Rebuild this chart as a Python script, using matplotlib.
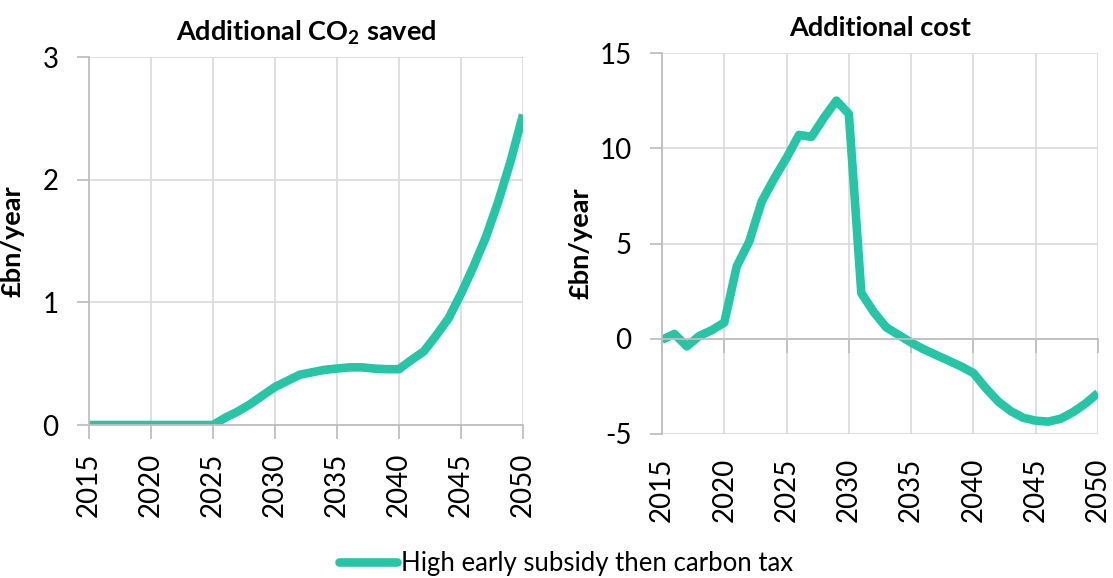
import matplotlib
matplotlib.use("Agg")
import matplotlib.pyplot as plt

plt.rcParams['font.family'] = ['Lato', 'DejaVu Sans']
plt.rcParams['mathtext.fontset'] = 'custom'
plt.rcParams['mathtext.rm'] = 'Lato'
plt.rcParams['mathtext.bf'] = 'Lato:bold'
plt.rcParams['axes.unicode_minus'] = False

years = list(range(2015, 2051))
co2_saved = [0, 0, 0, 0, 0, 0, 0, 0, 0, 0, 0,
             0.06, 0.11, 0.17, 0.24, 0.31, 0.36, 0.41, 0.43, 0.45, 0.46,
             0.47, 0.47, 0.46, 0.455, 0.455, 0.53, 0.60, 0.73, 0.87, 1.07,
             1.29, 1.53, 1.82, 2.15, 2.53]
add_cost = [-0.05, 0.25, -0.4, 0.15, 0.45, 0.85, 3.8, 5.1, 7.2, 8.4, 9.5,
            10.7, 10.6, 11.6, 12.5, 11.8, 2.4, 1.4, 0.6, 0.2, -0.2,
            -0.55, -0.85, -1.15, -1.45, -1.8, -2.6, -3.3, -3.8, -4.15, -4.3,
            -4.35, -4.2, -3.85, -3.4, -2.85]
xticks = [2015, 2020, 2025, 2030, 2035, 2040, 2045, 2050]
series_name = "High early subsidy then carbon tax"
titles = [r"Additional CO$_\mathbf{2}$ saved", "Additional cost"]
ylabel = "£bn/year"

color = "#26C5A6"
spine_c = "#BFBFBF"
grid_c = "#D9D9D9"
fs = 20
fs_title = 19.5
fs_leg = 18.5

W, H = 1113, 578
fig = plt.figure(figsize=(W / 100, H / 100), dpi=100)

def rect(x0, x1, y0, y1):
    return [x0 / W, 1 - y1 / H, (x1 - x0) / W, (y1 - y0) / H]

ax1 = fig.add_axes(rect(89, 523, 57, 425))
ax2 = fig.add_axes(rect(662, 1098, 53, 434))

for ax in (ax1, ax2):
    ax.set_xlim(2015, 2050)
    ax.grid(True, color=grid_c, linewidth=1.2)
    ax.set_axisbelow(True)
    for s in ('top', 'right'):
        ax.spines[s].set_visible(False)
    for s in ('left', 'bottom'):
        ax.spines[s].set_color(spine_c)
        ax.spines[s].set_linewidth(1.3)
    ax.tick_params(axis='y', length=9, width=1.3, color=spine_c, pad=13, labelsize=fs)
    ax.set_xticks(xticks)
    ax.set_ylabel(ylabel, fontsize=fs_title, fontweight='bold')

# Left chart
ln, = ax1.plot(years, co2_saved, color=color, linewidth=6.2, solid_capstyle='butt',
               solid_joinstyle='round', label=series_name)
ax1.set_ylim(0, 3)
ax1.set_yticks([0, 1, 2, 3])
ax1.tick_params(axis='x', length=10, width=1.3, color=spine_c, pad=10, labelsize=fs,
                labelrotation=90)
ax1.set_title(titles[0], fontsize=fs_title, fontweight='bold', pad=12)
ax1.yaxis.set_label_coords(-0.148, 0.5)

# Right chart
ax2.plot(years, add_cost, color=color, linewidth=6.2, solid_capstyle='butt',
         solid_joinstyle='round')
ax2.set_ylim(-5, 15)
ax2.set_yticks([-5, 0, 5, 10, 15])
ax2.spines['bottom'].set_position(('data', 0))
ax2.tick_params(axis='x', length=10, width=1.3, color=spine_c, labelbottom=False)
sec = ax2.secondary_xaxis('bottom')
sec.set_xticks(xticks)
sec.spines['bottom'].set_visible(False)
sec.tick_params(axis='x', length=0, pad=17, labelsize=fs, labelrotation=90)
ax2.set_title(titles[1], fontsize=fs_title, fontweight='bold', pad=12)
ax2.yaxis.set_label_coords(-0.16, 0.5)

leg = fig.legend(handles=[ln], labels=[series_name], loc='center',
                 bbox_to_anchor=(566 / W, 1 - 563 / H), frameon=False, fontsize=fs_leg,
                 handlelength=2.25, handletextpad=0.15)
leg.get_lines()[0].set_solid_capstyle('round')

fig.savefig("out.png", dpi=100, facecolor='white')
